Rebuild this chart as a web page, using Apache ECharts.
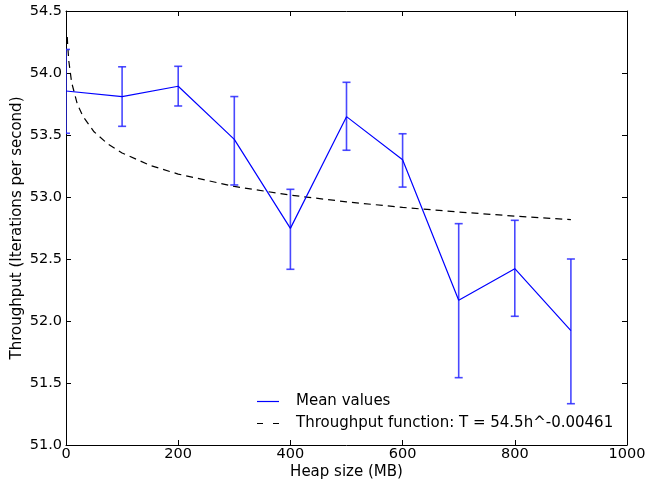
<!DOCTYPE html>
<html>
<head>
<meta charset="utf-8">
<script src="https://cdn.jsdelivr.net/npm/echarts@6/dist/echarts.min.js"></script>
<style>html,body{margin:0;padding:0;background:#fff}#c{width:647px;height:483px}</style>
</head>
<body>
<div id="c"></div>
<script>
// Heap sizes (MB)
var heapSizes = [0, 100, 200, 300, 400, 500, 600, 700, 800, 900];
// Mean throughput values
var meanValues = [53.855, 53.81, 53.893, 53.465, 52.747, 53.648, 53.30, 52.167, 52.422, 51.922];
// Error bar upper and lower ends
var errUpper = [54.19, 54.05, 54.054, 53.81, 53.062, 53.925, 53.51, 52.785, 52.812, 52.50];
var errLower = [53.514, 53.57, 53.734, 53.097, 52.417, 53.377, 53.08, 51.543, 52.038, 51.333];
// Fitted throughput function
var fitH = [2.3, 3, 5, 10, 20, 30, 50, 75, 100, 150, 200, 300, 400, 500, 600, 700, 800, 900];
var fitT = [54.29, 54.224, 54.097, 53.925, 53.752, 53.652, 53.526, 53.426, 53.355, 53.255, 53.185, 53.085, 53.015, 52.961, 52.916, 52.879, 52.846, 52.818];
// Axis ticks
var yTicks = [51.0, 51.5, 52.0, 52.5, 53.0, 53.5, 54.0, 54.5];
var xTicks = [0, 200, 400, 600, 800, 1000];
// Legend labels
var legendNames = ['Mean values', 'Throughput function: T = 54.5h^-0.00461'];

var font = 'DejaVu Sans';
var meanData = heapSizes.map(function (h, i) { return [h, meanValues[i]]; });
var fitData = fitH.map(function (h, i) { return [h, fitT[i]]; });
var errData = heapSizes.map(function (h, i) { return [h, errLower[i], errUpper[i]]; });

var chart = echarts.init(document.getElementById('c'), null, { renderer: 'canvas' });
var axisCommon = {
  axisLine: { show: true, onZero: false, lineStyle: { color: '#000', width: 1 } },
  axisTick: { show: true, inside: true, length: 5, lineStyle: { color: '#000' } },
  splitLine: { show: false }
};
var legendFont = '15px "DejaVu Sans"';
chart.setOption({
  animation: false,
  backgroundColor: '#fff',
  grid: { left: 66, right: 20, top: 11, bottom: 38, containLabel: false, outerBoundsMode: 'none' },
  xAxis: [
    Object.assign({
      type: 'value', min: xTicks[0], max: xTicks[xTicks.length - 1], interval: 200,
      name: 'Heap size (MB)', nameLocation: 'middle', nameGap: 20, nameMoveOverlap: false,
      nameTextStyle: { fontFamily: font, fontSize: 15, color: '#000' },
      axisLabel: { fontFamily: font, fontSize: 14.5, color: '#000', margin: 2,
        formatter: function (v) { return String(v); } }
    }, axisCommon),
    Object.assign({
      type: 'value', position: 'top', min: xTicks[0], max: xTicks[xTicks.length - 1], interval: 200,
      axisLabel: { show: false }
    }, axisCommon)
  ],
  yAxis: [
    Object.assign({
      type: 'value', min: yTicks[0], max: yTicks[yTicks.length - 1], interval: 0.5,
      name: 'Throughput (Iterations per second)', nameLocation: 'middle', nameGap: 41, nameMoveOverlap: false,
      nameTextStyle: { fontFamily: font, fontSize: 15, color: '#000' },
      axisLabel: { fontFamily: font, fontSize: 14.5, color: '#000', margin: 4,
        formatter: function (v) { return v.toFixed(1); } }
    }, axisCommon),
    Object.assign({
      type: 'value', position: 'right', min: yTicks[0], max: yTicks[yTicks.length - 1], interval: 0.5,
      axisLabel: { show: false }
    }, axisCommon)
  ],
  graphic: [
    { type: 'line', shape: { x1: 257, y1: 401.5, x2: 279, y2: 401.5 },
      style: { stroke: '#0000ff', lineWidth: 1.2 } },
    { type: 'text', x: 296, y: 401, style: { text: legendNames[0], font: legendFont, fill: '#000', verticalAlign: 'middle' } },
    { type: 'line', shape: { x1: 257, y1: 423.5, x2: 279, y2: 423.5 },
      style: { stroke: '#000', lineWidth: 1.2, lineDash: [6, 10] } },
    { type: 'text', x: 296, y: 423, style: { text: legendNames[1], font: legendFont, fill: '#000', verticalAlign: 'middle' } }
  ],
  series: [
    {
      name: 'errorbars', type: 'custom', xAxisIndex: 0, yAxisIndex: 0, clip: true, z: 3,
      data: errData,
      renderItem: function (params, api) {
        var x = api.value(0);
        var lo = api.coord([x, api.value(1)]);
        var hi = api.coord([x, api.value(2)]);
        var w = 4;
        var style = { stroke: 'rgba(40,40,255,0.85)', lineWidth: 1.6, fill: null };
        return {
          type: 'group',
          children: [
            { type: 'line', shape: { x1: lo[0], y1: lo[1], x2: hi[0], y2: hi[1] }, style: style },
            { type: 'line', shape: { x1: lo[0] - w, y1: lo[1], x2: lo[0] + w, y2: lo[1] }, style: style },
            { type: 'line', shape: { x1: hi[0] - w, y1: hi[1], x2: hi[0] + w, y2: hi[1] }, style: style }
          ]
        };
      }
    },
    {
      name: legendNames[0], type: 'line', data: meanData, symbol: 'none', z: 4,
      lineStyle: { color: '#0000ff', width: 1.2 }, itemStyle: { color: '#0000ff' }
    },
    {
      name: legendNames[1], type: 'line', data: fitData, symbol: 'none', z: 2,
      lineStyle: { color: '#000', width: 1.2, type: [7, 5] }, itemStyle: { color: '#000' }
    }
  ]
});
</script>
</body>
</html>
